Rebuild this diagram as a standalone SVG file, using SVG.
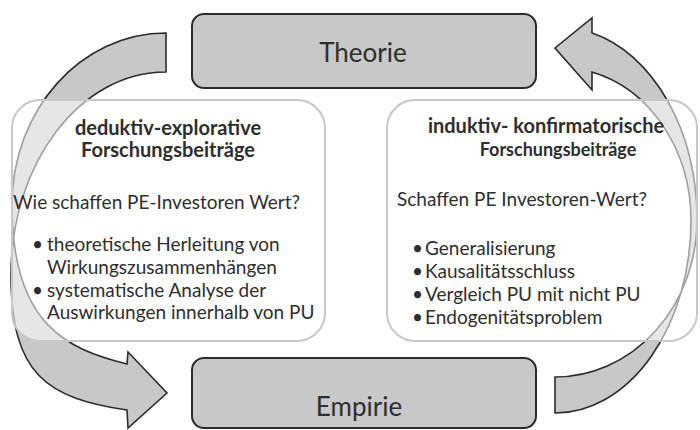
<svg xmlns="http://www.w3.org/2000/svg" width="700" height="430" viewBox="0 0 700 430">
<style>
.big{fill:#c8c8c8;stroke:#2b2b2b;stroke-width:2}
.panel{fill:#ffffff;fill-opacity:0.55;stroke:#c8c8c8;stroke-width:2}
.arrow{fill:#c8c8c8;stroke:#2b2b2b;stroke-width:1.6;stroke-linejoin:miter}
text{font-family:Lato,"Open Sans","Liberation Sans",sans-serif;fill:#2e2e2e}
.head{font-size:26px;text-anchor:middle}
.title{font-size:20px;font-weight:bold;text-anchor:middle}
.body{font-size:19px}
</style>
<rect width="700" height="430" fill="#ffffff"/>
<g id="connectors">
<path id="arrow-left" class="arrow" d="M166,33 C81,33 12,110 12,205 C12,325 67,349 127,364 L128,352 L167,393 L128,428 L127,410 C47,398 11,375 11,275 C11,163 80,72 166,72 Z"/>
<path id="arrow-right" class="arrow" d="M592,33 A137,192 0 0 1 697,220 A142,157 0 0 1 555,377 L555,413 A136,193 0 0 0 691,220 A131,153 0 0 0 592,72 L592,90 L555,48 L592,18 Z"/>
</g>
<g id="node-deduktiv">
<rect class="panel" x="12" y="100" width="313" height="241" rx="28"/>
<text class="title" x="168" y="135">deduktiv-explorative</text>
<text class="title" x="168" y="157">Forschungsbeiträge</text>
<text class="body" x="13" y="209">Wie schaffen PE-Investoren Wert?</text>
<text class="body" x="32" y="251">•</text>
<text class="body" x="47" y="251">theoretische Herleitung von</text>
<text class="body" x="47" y="274">Wirkungszusammenhängen</text>
<text class="body" x="32" y="297">•</text>
<text class="body" x="47" y="297">systematische Analyse der</text>
<text class="body" x="47" y="319">Auswirkungen innerhalb von PU</text>
</g>
<g id="node-induktiv">
<rect class="panel" x="387" y="100" width="310" height="241" rx="28"/>
<text class="title" x="546" y="133">induktiv- konfirmatorische</text>
<text class="title" x="558" y="156" style="font-size:18px">Forschungsbeiträge</text>
<text class="body" x="397" y="206">Schaffen PE Investoren-Wert?</text>
<text class="body" x="412" y="255">•</text>
<text class="body" x="425" y="255">Generalisierung</text>
<text class="body" x="412" y="278">•</text>
<text class="body" x="425" y="278">Kausalitätsschluss</text>
<text class="body" x="412" y="301">•</text>
<text class="body" x="425" y="301">Vergleich PU mit nicht PU</text>
<text class="body" x="412" y="324">•</text>
<text class="body" x="425" y="324">Endogenitätsproblem</text>
</g>
<g id="node-theorie">
<rect class="big" x="192" y="14" width="344" height="74" rx="12"/>
<text class="head" x="363" y="62">Theorie</text>
</g>
<g id="node-empirie">
<rect class="big" x="192" y="358" width="344" height="70" rx="12"/>
<text class="head" x="359" y="416">Empirie</text>
</g>
</svg>
